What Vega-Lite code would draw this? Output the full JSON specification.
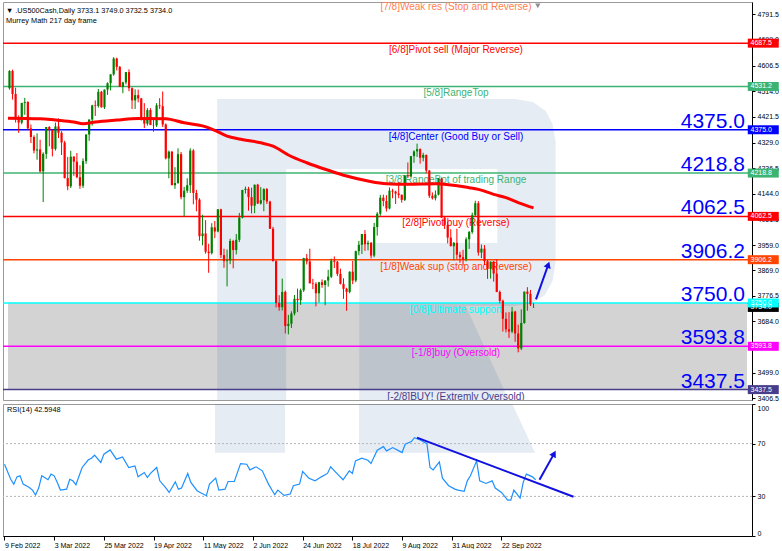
{
"$schema": "https://vega.github.io/schema/vega-lite/v6.json",
"background": "white",
"padding": {"left": 1, "top": 1, "right": 0, "bottom": 0},
"bounds": "flush",
"spacing": 4,
"config": {"view": {"stroke": "#9a9a9a", "strokeWidth": 1}, "font": "Liberation Sans"},
"datasets": {
"candles": [
{"i":0,"o":4525,"h":4590,"l":4520,"c":4587},{"i":1,"o":4587,"h":4592,"l":4484,"c":4504},{"i":2,"o":4504,"h":4527,"l":4401,"c":4418},{"i":3,"o":4418,"h":4427,"l":4364,"c":4401},{"i":4,"o":4401,"h":4472,"l":4395,"c":4472},{"i":5,"o":4472,"h":4490,"l":4429,"c":4475},{"i":6,"o":4475,"h":4478,"l":4373,"c":4380},{"i":7,"o":4380,"h":4394,"l":4327,"c":4349},{"i":8,"o":4349,"h":4355,"l":4290,"c":4300},{"i":9,"o":4300,"h":4362,"l":4267,"c":4304},
{"i":10,"o":4304,"h":4339,"l":4221,"c":4225},{"i":11,"o":4225,"h":4294,"l":4114,"c":4288},{"i":12,"o":4288,"h":4385,"l":4270,"c":4385},{"i":13,"o":4385,"h":4388,"l":4315,"c":4374},{"i":14,"o":4374,"h":4375,"l":4279,"c":4306},{"i":15,"o":4306,"h":4401,"l":4300,"c":4387},{"i":16,"o":4387,"h":4416,"l":4345,"c":4364},{"i":17,"o":4364,"h":4370,"l":4284,"c":4329},{"i":18,"o":4329,"h":4335,"l":4199,"c":4201},{"i":19,"o":4201,"h":4277,"l":4157,"c":4171},
{"i":20,"o":4171,"h":4299,"l":4165,"c":4278},{"i":21,"o":4278,"h":4280,"l":4209,"c":4260},{"i":22,"o":4260,"h":4291,"l":4200,"c":4204},{"i":23,"o":4204,"h":4247,"l":4162,"c":4173},{"i":24,"o":4173,"h":4272,"l":4165,"c":4262},{"i":25,"o":4262,"h":4358,"l":4252,"c":4358},{"i":26,"o":4358,"h":4412,"l":4335,"c":4412},{"i":27,"o":4412,"h":4465,"l":4390,"c":4463},{"i":28,"o":4463,"h":4481,"l":4425,"c":4461},{"i":29,"o":4461,"h":4522,"l":4455,"c":4512},
{"i":30,"o":4512,"h":4515,"l":4455,"c":4456},{"i":31,"o":4456,"h":4520,"l":4450,"c":4520},{"i":32,"o":4520,"h":4546,"l":4501,"c":4543},{"i":33,"o":4543,"h":4575,"l":4517,"c":4575},{"i":34,"o":4575,"h":4637,"l":4570,"c":4632},{"i":35,"o":4632,"h":4635,"l":4589,"c":4602},{"i":36,"o":4602,"h":4605,"l":4530,"c":4530},{"i":37,"o":4530,"h":4548,"l":4507,"c":4546},{"i":38,"o":4546,"h":4583,"l":4539,"c":4583},{"i":39,"o":4583,"h":4593,"l":4514,"c":4525},
{"i":40,"o":4525,"h":4528,"l":4450,"c":4481},{"i":41,"o":4481,"h":4521,"l":4450,"c":4500},{"i":42,"o":4500,"h":4520,"l":4474,"c":4488},{"i":43,"o":4488,"h":4490,"l":4408,"c":4413},{"i":44,"o":4413,"h":4471,"l":4381,"c":4397},{"i":45,"o":4397,"h":4453,"l":4390,"c":4446},{"i":46,"o":4446,"h":4453,"l":4392,"c":4392},{"i":47,"o":4392,"h":4411,"l":4368,"c":4391},{"i":48,"o":4391,"h":4471,"l":4385,"c":4463},{"i":49,"o":4463,"h":4489,"l":4450,"c":4460},
{"i":50,"o":4460,"h":4513,"l":4385,"c":4394},{"i":51,"o":4394,"h":4398,"l":4268,"c":4272},{"i":52,"o":4272,"h":4300,"l":4200,"c":4296},{"i":53,"o":4296,"h":4298,"l":4175,"c":4175},{"i":54,"o":4175,"h":4240,"l":4162,"c":4183},{"i":55,"o":4183,"h":4308,"l":4180,"c":4287},{"i":56,"o":4287,"h":4295,"l":4124,"c":4132},{"i":57,"o":4132,"h":4169,"l":4062,"c":4155},{"i":58,"o":4155,"h":4200,"l":4147,"c":4175},{"i":59,"o":4175,"h":4308,"l":4147,"c":4300},
{"i":60,"o":4300,"h":4305,"l":4106,"c":4147},{"i":61,"o":4147,"h":4158,"l":4081,"c":4123},{"i":62,"o":4123,"h":4128,"l":3975,"c":3991},{"i":63,"o":3991,"h":4068,"l":3958,"c":4001},{"i":64,"o":4001,"h":4049,"l":3928,"c":3935},{"i":65,"o":3935,"h":3964,"l":3859,"c":3930},{"i":66,"o":3930,"h":4038,"l":3925,"c":4023},{"i":67,"o":4023,"h":4046,"l":3984,"c":4008},{"i":68,"o":4008,"h":4089,"l":4005,"c":4088},{"i":69,"o":4088,"h":4090,"l":3912,"c":3923},
{"i":70,"o":3923,"h":3946,"l":3877,"c":3901},{"i":71,"o":3901,"h":3943,"l":3810,"c":3904},{"i":72,"o":3904,"h":3982,"l":3890,"c":3974},{"i":73,"o":3974,"h":3978,"l":3875,"c":3941},{"i":74,"o":3941,"h":3999,"l":3925,"c":3978},{"i":75,"o":3978,"h":4075,"l":3970,"c":4058},{"i":76,"o":4058,"h":4158,"l":4055,"c":4158},{"i":77,"o":4158,"h":4170,"l":4145,"c":4162},{"i":78,"o":4162,"h":4169,"l":4083,"c":4132},{"i":79,"o":4132,"h":4166,"l":4073,"c":4101},
{"i":80,"o":4101,"h":4177,"l":4074,"c":4177},{"i":81,"o":4177,"h":4180,"l":4107,"c":4109},{"i":82,"o":4109,"h":4168,"l":4105,"c":4121},{"i":83,"o":4121,"h":4164,"l":4081,"c":4161},{"i":84,"o":4161,"h":4165,"l":4107,"c":4116},{"i":85,"o":4116,"h":4119,"l":4017,"c":4018},{"i":86,"o":4018,"h":4025,"l":3900,"c":3901},{"i":87,"o":3901,"h":3905,"l":3734,"c":3750},{"i":88,"o":3750,"h":3778,"l":3722,"c":3735},{"i":89,"o":3735,"h":3838,"l":3723,"c":3790},
{"i":90,"o":3790,"h":3795,"l":3640,"c":3667},{"i":91,"o":3667,"h":3707,"l":3637,"c":3675},{"i":92,"o":3675,"h":3720,"l":3660,"c":3712},{"i":93,"o":3712,"h":3779,"l":3705,"c":3765},{"i":94,"o":3765,"h":3802,"l":3717,"c":3760},{"i":95,"o":3760,"h":3802,"l":3743,"c":3796},{"i":96,"o":3796,"h":3913,"l":3790,"c":3912},{"i":97,"o":3912,"h":3927,"l":3889,"c":3900},{"i":98,"o":3900,"h":3946,"l":3821,"c":3821},{"i":99,"o":3821,"h":3837,"l":3800,"c":3819},
{"i":100,"o":3819,"h":3825,"l":3738,"c":3785},{"i":101,"o":3785,"h":3826,"l":3752,"c":3825},{"i":102,"o":3825,"h":3835,"l":3805,"c":3815},{"i":103,"o":3815,"h":3832,"l":3742,"c":3831},{"i":104,"o":3831,"h":3870,"l":3809,"c":3845},{"i":105,"o":3845,"h":3910,"l":3840,"c":3903},{"i":106,"o":3903,"h":3918,"l":3876,"c":3899},{"i":107,"o":3899,"h":3902,"l":3847,"c":3855},{"i":108,"o":3855,"h":3874,"l":3817,"c":3819},{"i":109,"o":3819,"h":3839,"l":3765,"c":3801},
{"i":110,"o":3801,"h":3805,"l":3722,"c":3790},{"i":111,"o":3790,"h":3864,"l":3785,"c":3863},{"i":112,"o":3863,"h":3902,"l":3818,"c":3831},{"i":113,"o":3831,"h":3939,"l":3825,"c":3937},{"i":114,"o":3937,"h":3974,"l":3922,"c":3960},{"i":115,"o":3960,"h":3999,"l":3927,"c":3999},{"i":116,"o":3999,"h":4013,"l":3938,"c":3962},{"i":117,"o":3962,"h":3975,"l":3940,"c":3967},{"i":118,"o":3967,"h":3970,"l":3911,"c":3921},{"i":119,"o":3921,"h":4039,"l":3915,"c":4024},
{"i":120,"o":4024,"h":4078,"l":3993,"c":4072},{"i":121,"o":4072,"h":4140,"l":4065,"c":4130},{"i":122,"o":4130,"h":4141,"l":4099,"c":4118},{"i":123,"o":4118,"h":4139,"l":4080,"c":4091},{"i":124,"o":4091,"h":4167,"l":4088,"c":4155},{"i":125,"o":4155,"h":4162,"l":4128,"c":4152},{"i":126,"o":4152,"h":4155,"l":4107,"c":4145},{"i":127,"o":4145,"h":4186,"l":4128,"c":4140},{"i":128,"o":4140,"h":4142,"l":4112,"c":4122},{"i":129,"o":4122,"h":4211,"l":4118,"c":4210},
{"i":130,"o":4210,"h":4257,"l":4201,"c":4207},{"i":131,"o":4207,"h":4280,"l":4205,"c":4280},{"i":132,"o":4280,"h":4301,"l":4256,"c":4297},{"i":133,"o":4297,"h":4325,"l":4277,"c":4305},{"i":134,"o":4305,"h":4308,"l":4253,"c":4274},{"i":135,"o":4274,"h":4292,"l":4261,"c":4284},{"i":136,"o":4284,"h":4286,"l":4218,"c":4228},{"i":137,"o":4228,"h":4230,"l":4129,"c":4137},{"i":138,"o":4137,"h":4149,"l":4123,"c":4128},{"i":139,"o":4128,"h":4156,"l":4120,"c":4141},
{"i":140,"o":4141,"h":4200,"l":4138,"c":4199},{"i":141,"o":4199,"h":4203,"l":4057,"c":4058},{"i":142,"o":4058,"h":4063,"l":4017,"c":4031},{"i":143,"o":4031,"h":4044,"l":3965,"c":3986},{"i":144,"o":3986,"h":4016,"l":3954,"c":3955},{"i":145,"o":3955,"h":3970,"l":3904,"c":3967},{"i":146,"o":3967,"h":4018,"l":3907,"c":3924},{"i":147,"o":3924,"h":3935,"l":3895,"c":3915},{"i":148,"o":3915,"h":3942,"l":3886,"c":3908},{"i":149,"o":3908,"h":3987,"l":3900,"c":3980},
{"i":150,"o":3980,"h":4010,"l":3945,"c":4006},{"i":151,"o":4006,"h":4076,"l":4000,"c":4067},{"i":152,"o":4067,"h":4119,"l":4060,"c":4110},{"i":153,"o":4110,"h":4118,"l":3921,"c":3932},{"i":154,"o":3932,"h":3961,"l":3912,"c":3946},{"i":155,"o":3946,"h":3959,"l":3887,"c":3901},{"i":156,"o":3901,"h":3905,"l":3837,"c":3873},{"i":157,"o":3873,"h":3900,"l":3838,"c":3899},{"i":158,"o":3899,"h":3902,"l":3827,"c":3856},{"i":159,"o":3856,"h":3907,"l":3789,"c":3790},
{"i":160,"o":3790,"h":3795,"l":3749,"c":3758},{"i":161,"o":3758,"h":3762,"l":3647,"c":3693},{"i":162,"o":3693,"h":3716,"l":3644,"c":3655},{"i":163,"o":3655,"h":3717,"l":3624,"c":3647},{"i":164,"o":3647,"h":3736,"l":3641,"c":3719},{"i":165,"o":3719,"h":3722,"l":3610,"c":3640},{"i":166,"o":3640,"h":3672,"l":3572,"c":3586},{"i":167,"o":3586,"h":3727,"l":3580,"c":3678},{"i":168,"o":3678,"h":3791,"l":3675,"c":3791},{"i":169,"o":3791,"h":3807,"l":3722,"c":3783},
{"i":170,"o":3783,"h":3797,"l":3739,"c":3745},{"i":171,"o":3733.1,"h":3749,"l":3732.5,"c":3734}
],
"ma": [
{"i":-0.5,"v":4417},{"i":10,"v":4415},{"i":15,"v":4410},{"i":21,"v":4403},{"i":24,"v":4397},{"i":28,"v":4403},{"i":35,"v":4410},{"i":42,"v":4416},{"i":51,"v":4415},{"i":57,"v":4400},{"i":63,"v":4389},{"i":67,"v":4373},{"i":71,"v":4352},{"i":75.5,"v":4341},{"i":82,"v":4328},{"i":86,"v":4316},{"i":91,"v":4284},{"i":97,"v":4256},{"i":104,"v":4229},{"i":110,"v":4208},{"i":117,"v":4190},{"i":123,"v":4180},{"i":130,"v":4178},{"i":139,"v":4180},{"i":150,"v":4166},{"i":153,"v":4160},{"i":158,"v":4142},{"i":162,"v":4130},{"i":166,"v":4112},{"i":171,"v":4093}
],
"rsi": [
{"i":0,"v":54.4},{"i":2,"v":43},{"i":3,"v":39.3},{"i":4,"v":44.8},{"i":5,"v":45.6},{"i":6,"v":39.3},{"i":8,"v":36.8},{"i":9,"v":34.8},{"i":10,"v":31},{"i":11,"v":36.3},{"i":12,"v":45.6},{"i":14,"v":42.6},{"i":15,"v":46.9},{"i":16,"v":45.6},{"i":17,"v":40.6},{"i":18,"v":34.8},{"i":20,"v":35.5},{"i":21,"v":43},{"i":22,"v":41.8},{"i":23,"v":38.8},{"i":25,"v":51.9},{"i":27,"v":57.7},{"i":28,"v":58.9},{"i":29,"v":61.2},{"i":31,"v":55.7},{"i":32,"v":62},{"i":34,"v":65.2},{"i":36,"v":58.2},{"i":38,"v":59.9},{"i":40,"v":51.9},{"i":42,"v":53.1},{"i":43,"v":44.8},{"i":45,"v":48.1},{"i":46,"v":44.3},{"i":47,"v":47.4},{"i":49,"v":51.9},{"i":50,"v":41.8},{"i":52,"v":36.3},{"i":53,"v":33},{"i":55,"v":41},{"i":56,"v":35.5},{"i":57,"v":36.3},{"i":59,"v":47.4},{"i":60,"v":40.6},{"i":62,"v":34.3},{"i":63,"v":33},{"i":65,"v":30.5},{"i":66,"v":39.3},{"i":68,"v":43.8},{"i":69,"v":34.8},{"i":71,"v":35.5},{"i":72,"v":41.3},{"i":74,"v":41.3},{"i":76,"v":54.9},{"i":78,"v":54.4},{"i":79,"v":50.1},{"i":81,"v":52.4},{"i":83,"v":49.4},{"i":85,"v":39.3},{"i":87,"v":31.3},{"i":88,"v":34.8},{"i":90,"v":30.8},{"i":92,"v":31.8},{"i":93,"v":38.1},{"i":95,"v":39.3},{"i":96,"v":48.9},{"i":98,"v":43.8},{"i":100,"v":41.8},{"i":102,"v":44.8},{"i":104,"v":47.4},{"i":105,"v":52.4},{"i":107,"v":47.4},{"i":109,"v":42.6},{"i":111,"v":49.4},{"i":112,"v":47.4},{"i":113,"v":56.9},{"i":115,"v":58.9},{"i":117,"v":57.4},{"i":118,"v":54.9},{"i":120,"v":65},{"i":122,"v":67.7},{"i":123,"v":64.5},{"i":125,"v":67},{"i":127,"v":64.5},{"i":128,"v":63.2},{"i":129,"v":69.5},{"i":131,"v":71.5},{"i":132,"v":74.5},{"i":134,"v":72.5},{"i":136,"v":70},{"i":137,"v":51.9},{"i":138,"v":50.1},{"i":140,"v":56.2},{"i":141,"v":43.8},{"i":143,"v":38.1},{"i":145,"v":35.5},{"i":146,"v":34.8},{"i":148,"v":33.8},{"i":149,"v":41.8},{"i":150,"v":45.6},{"i":152,"v":56.9},{"i":153,"v":41.8},{"i":155,"v":39.8},{"i":157,"v":41.8},{"i":158,"v":36.3},{"i":160,"v":33},{"i":162,"v":27.2},{"i":163,"v":27.2},{"i":164,"v":34.8},{"i":166,"v":28.7},{"i":167,"v":40.6},{"i":168,"v":46.9},{"i":170,"v":44.8},{"i":171,"v":42.6}
],
"levels": [
{"lv":"p78","p":4843.75,"label":"[7/8]Weak res (Stop and Reverse)","num":"4843.8"},
{"lv":"p68","p":4687.5,"label":"[6/8]Pivot sell (Major Reverse)","num":"4687.5"},
{"lv":"p58","p":4531.25,"label":"[5/8]RangeTop","num":"4531.2"},
{"lv":"p48","p":4375,"label":"[4/8]Center (Good Buy or Sell)","num":"4375.0"},
{"lv":"p38","p":4218.75,"label":"[3/8]RangeBot of trading Range","num":"4218.8"},
{"lv":"p28","p":4062.5,"label":"[2/8]Pivot buy (Reverse)","num":"4062.5"},
{"lv":"p18","p":3906.25,"label":"[1/8]Weak sup (stop and Reverse)","num":"3906.2"},
{"lv":"p08","p":3750,"label":"[0/8]Ultimate support","num":"3750.0"},
{"lv":"m18","p":3593.75,"label":"[-1/8]buy (Oversold)","num":"3593.8"},
{"lv":"m28","p":3437.5,"label":"[-2/8]BUY! (Extremly Oversold)","num":"3437.5"}
],
"tags": [
{"lv":"cur","p":3734,"num":"3734.0"},
{"lv":"p68","p":4687.5,"num":"4687.5"},
{"lv":"p58","p":4531.25,"num":"4531.2"},
{"lv":"p48","p":4375,"num":"4375.0"},
{"lv":"p38","p":4218.75,"num":"4218.8"},
{"lv":"p28","p":4062.5,"num":"4062.5"},
{"lv":"p18","p":3906.25,"num":"3906.2"},
{"lv":"p08","p":3750,"num":"3750.0"},
{"lv":"m18","p":3593.75,"num":"3593.8"},
{"lv":"m28","p":3437.5,"num":"3437.5"}
],
"wm": [
{"k":0,"x":67.77,"y":4486},{"k":1,"x":165.0,"y":4486},{"k":2,"x":170.8,"y":4475.2},{"k":3,"x":175.0,"y":4442.7},{"k":4,"x":177.2,"y":4395.8},{"k":5,"x":178.2,"y":4334.5},{"k":6,"x":178.2,"y":3894.3},{"k":7,"x":177.2,"y":3829.4},{"k":8,"x":174.7,"y":3778.9},{"k":9,"x":170.5,"y":3750},{"k":10,"x":165.0,"y":3739.2},{"k":11,"x":148.9,"y":3739.2},{"k":12,"x":162.9,"y":3400},{"k":13,"x":114.13,"y":3400},{"k":14,"x":114.13,"y":3966.5},{"k":15,"x":159.21,"y":3966.5},{"k":16,"x":159.21,"y":4233.5},{"k":17,"x":90.31,"y":4233.5},{"k":18,"x":90.31,"y":3400},{"k":19,"x":67.77,"y":3400}
],
"wmr": [
{"part":"s","k":0,"x":67.77,"y":100},{"part":"s","k":1,"x":90.31,"y":100},{"part":"s","k":2,"x":90.31,"y":63},{"part":"s","k":3,"x":67.77,"y":63},
{"part":"l","k":0,"x":114.13,"y":100},{"part":"l","k":1,"x":163.5,"y":100},{"part":"l","k":2,"x":170.8,"y":63},{"part":"l","k":3,"x":114.13,"y":63}
],
"rsilv": [{"v":70},{"v":30}]
},
"vconcat": [
{
"width": 749,
"height": 398,
"title": {"text": "▼  .US500Cash,Daily  3733.1 3749.0 3732.5 3734.0", "subtitle": "Murrey Math 217 day frame", "anchor": "start", "frame": "group", "orient": "top", "offset": -22, "dx": 3, "font": "Liberation Sans", "fontSize": 7.3, "fontWeight": "normal", "color": "#000000", "subtitleFont": "Liberation Sans", "subtitleFontSize": 7.4, "subtitleColor": "#000000", "subtitlePadding": 2.5},
"encoding": {
"y": {"type": "quantitative", "scale": {"domain": [3400, 4836], "nice": false, "zero": false},
"axis": {"orient": "right", "values": [4791.5, 4699.0, 4606.5, 4514.0, 4421.5, 4329.0, 4236.5, 4144.0, 4051.5, 3959.0, 3869.0, 3776.5, 3684.0, 3499.0, 3406.5], "format": ".1f", "labelFont": "Liberation Sans", "labelFontSize": 7, "labelColor": "#000000", "tickSize": 3, "tickColor": "#000000", "domainColor": "#000000", "labelPadding": 2, "grid": false, "title": null, "labelOverlap": false, "labelBound": false, "zindex": 0}}
},
"layer": [
{
"data": {"values": [{"top": 3750, "bottom": 3437.5}]},
"mark": {"type": "rect", "color": "#d3d3d3"},
"encoding": {
"x": {"datum": -0.48, "type": "quantitative", "scale": {"domain": [-0.48, 240.66], "nice": false, "zero": false}, "axis": null},
"x2": {"datum": 240.66},
"y": {"field": "top", "type": "quantitative"},
"y2": {"field": "bottom"}
}
},
{
"data": {"name": "wm"},
"mark": {"type": "line", "filled": true, "color": "#1f4e9a", "opacity": 0.11, "strokeWidth": 0, "interpolate": "linear"},
"encoding": {
"x": {"field": "x", "type": "quantitative", "scale": {"domain": [-0.48, 240.66], "nice": false, "zero": false}, "axis": null},
"y": {"field": "y", "type": "quantitative"},
"order": {"field": "k", "type": "quantitative"}
}
},
{
"data": {"name": "levels"},
"transform": [{"filter": "datum.p < 4800"}],
"mark": {"type": "rule", "strokeWidth": 1.5},
"encoding": {
"y": {"field": "p", "type": "quantitative"},
"color": {"field": "lv", "type": "nominal", "legend": null, "scale": {"domain": ["p78","p68","p58","p48","p38","p28","p18","p08","m18","m28","cur"], "range": ["#ff7f50","#ff0000","#3cb371","#0000ff","#3cb371","#ff0000","#ff4500","#00ffff","#ff00ff","#483d8b","#000000"]}}
}
},
{
"data": {"name": "levels"},
"mark": {"type": "text", "align": "center", "baseline": "middle", "dy": 7, "font": "Liberation Sans", "fontSize": 10, "clip": true},
"encoding": {
"x": {"datum": 145.7, "type": "quantitative", "scale": {"domain": [-0.48, 240.66], "nice": false, "zero": false}, "axis": null},
"y": {"field": "p", "type": "quantitative"},
"text": {"field": "label"},
"color": {"field": "lv", "type": "nominal", "legend": null, "scale": {"domain": ["p78","p68","p58","p48","p38","p28","p18","p08","m18","m28","cur"], "range": ["#ff7f50","#ff0000","#3cb371","#0000ff","#3cb371","#ff0000","#ff4500","#00ffff","#ff00ff","#483d8b","#000000"]}}
}
},
{
"data": {"name": "levels"},
"transform": [{"filter": "datum.p <= 4375"}],
"mark": {"type": "text", "align": "right", "baseline": "alphabetic", "dy": -2, "font": "Liberation Sans", "fontSize": 21, "color": "#0000ff"},
"encoding": {
"x": {"datum": 240.0, "type": "quantitative", "scale": {"domain": [-0.48, 240.66], "nice": false, "zero": false}, "axis": null},
"y": {"field": "p", "type": "quantitative"},
"text": {"field": "num"}
}
},
{
"data": {"name": "candles"},
"mark": {"type": "rule", "strokeWidth": 1},
"encoding": {
"x": {"field": "i", "type": "quantitative", "scale": {"domain": [-0.48, 240.66], "nice": false, "zero": false}, "axis": null},
"y": {"field": "l", "type": "quantitative"},
"y2": {"field": "h"},
"color": {"condition": {"test": "datum.c >= datum.o", "value": "#008000"}, "value": "#ff0000"}
}
},
{
"data": {"name": "candles"},
"mark": {"type": "bar", "size": 2.2},
"encoding": {
"x": {"field": "i", "type": "quantitative", "scale": {"domain": [-0.48, 240.66], "nice": false, "zero": false}, "axis": null},
"y": {"field": "o", "type": "quantitative"},
"y2": {"field": "c"},
"color": {"condition": {"test": "datum.c >= datum.o", "value": "#008000"}, "value": "#ff0000"}
}
},
{
"data": {"name": "ma"},
"mark": {"type": "line", "color": "#ff0000", "strokeWidth": 3, "interpolate": "monotone"},
"encoding": {
"x": {"field": "i", "type": "quantitative", "scale": {"domain": [-0.48, 240.66], "nice": false, "zero": false}, "axis": null},
"y": {"field": "v", "type": "quantitative"}
}
},
{
"data": {"values": [{"x1": 171.8, "y1": 3763, "x2": 175.8, "y2": 3888}]},
"mark": {"type": "rule", "color": "#1010e0", "strokeWidth": 2},
"encoding": {
"x": {"field": "x1", "type": "quantitative", "scale": {"domain": [-0.48, 240.66], "nice": false, "zero": false}, "axis": null},
"y": {"field": "y1", "type": "quantitative"},
"x2": {"field": "x2"},
"y2": {"field": "y2"}
}
},
{
"data": {"values": [{"x": 175.8, "y": 3888}]},
"mark": {"type": "point", "shape": "triangle-up", "filled": true, "color": "#1010e0", "size": 55, "angle": 20, "opacity": 1},
"encoding": {
"x": {"field": "x", "type": "quantitative", "scale": {"domain": [-0.48, 240.66], "nice": false, "zero": false}, "axis": null},
"y": {"field": "y", "type": "quantitative"}
}
},
{
"data": {"values": [{"x": 172.4, "y": 4822}]},
"mark": {"type": "point", "shape": "triangle-down", "filled": true, "color": "#909090", "size": 28, "opacity": 1},
"encoding": {
"x": {"field": "x", "type": "quantitative", "scale": {"domain": [-0.48, 240.66], "nice": false, "zero": false}, "axis": null},
"y": {"field": "y", "type": "quantitative"}
}
},
{
"data": {"name": "tags"},
"mark": {"type": "point", "shape": "M-1,-0.29H1V0.29H-1Z", "filled": true, "size": 961, "opacity": 1, "strokeWidth": 0},
"encoding": {
"x": {"datum": 245.97, "type": "quantitative", "scale": {"domain": [-0.48, 240.66], "nice": false, "zero": false}, "axis": null},
"y": {"field": "p", "type": "quantitative"},
"color": {"field": "lv", "type": "nominal", "legend": null, "scale": {"domain": ["p78","p68","p58","p48","p38","p28","p18","p08","m18","m28","cur"], "range": ["#ff7f50","#ff0000","#3cb371","#0000ff","#3cb371","#ff0000","#ff4500","#00ffff","#ff00ff","#483d8b","#000000"]}}
}
},
{
"data": {"name": "tags"},
"mark": {"type": "text", "align": "left", "baseline": "middle", "font": "Liberation Sans", "fontSize": 7, "color": "#ffffff"},
"encoding": {
"x": {"datum": 241.8, "type": "quantitative", "scale": {"domain": [-0.48, 240.66], "nice": false, "zero": false}, "axis": null},
"y": {"field": "p", "type": "quantitative"},
"text": {"field": "num"}
}
}
]
},
{
"width": 749,
"height": 132,
"title": {"text": "RSI(14) 42.5948", "anchor": "start", "frame": "group", "orient": "top", "offset": -10, "dx": 4, "font": "Liberation Sans", "fontSize": 7.3, "fontWeight": "normal", "color": "#000000"},
"encoding": {
"x": {"type": "quantitative", "scale": {"domain": [-0.48, 240.66], "nice": false, "zero": false},
"axis": {"orient": "bottom", "values": [0, 16, 32, 48, 64, 80, 96, 112, 128, 144, 160], "labelExpr": "['9 Feb 2022','3 Mar 2022','25 Mar 2022','19 Apr 2022','11 May 2022','2 Jun 2022','24 Jun 2022','18 Jul 2022','9 Aug 2022','31 Aug 2022','22 Sep 2022'][round(datum.value/16)]", "labelAlign": "left", "labelBaseline": "top", "labelAngle": 0, "labelPadding": 1, "tickSize": 4, "tickColor": "#000000", "domainColor": "#000000", "labelFont": "Liberation Sans", "labelFontSize": 7, "labelColor": "#000000", "labelFlush": false, "labelOverlap": false, "labelBound": false, "grid": false, "title": null}},
"y": {"type": "quantitative", "scale": {"domain": [0, 100], "nice": false, "zero": false},
"axis": {"orient": "right", "values": [0, 30, 70, 100], "labelFlush": true, "labelFont": "Liberation Sans", "labelFontSize": 7, "labelColor": "#000000", "tickSize": 3, "tickColor": "#000000", "domainColor": "#000000", "labelPadding": 2, "grid": false, "title": null, "labelOverlap": false}}
},
"layer": [
{
"data": {"name": "wmr"},
"mark": {"type": "line", "filled": true, "color": "#1f4e9a", "opacity": 0.11, "strokeWidth": 0, "interpolate": "linear"},
"encoding": {
"x": {"field": "x", "type": "quantitative"},
"y": {"field": "y", "type": "quantitative"},
"order": {"field": "k", "type": "quantitative"},
"detail": {"field": "part", "type": "nominal"}
}
},
{
"data": {"name": "rsilv"},
"mark": {"type": "rule", "color": "#b4b4b4", "strokeWidth": 1, "strokeDash": [2, 2]},
"encoding": {
"y": {"field": "v", "type": "quantitative"}
}
},
{
"data": {"name": "rsi"},
"mark": {"type": "line", "color": "#1e90ff", "strokeWidth": 1.2},
"encoding": {
"x": {"field": "i", "type": "quantitative"},
"y": {"field": "v", "type": "quantitative"}
}
},
{
"data": {"values": [{"x1": 132.8, "y1": 74.5, "x2": 183.2, "y2": 29.7}, {"x1": 172.25, "y1": 42.6, "x2": 176.95, "y2": 62.4}]},
"mark": {"type": "rule", "color": "#1010e0", "strokeWidth": 2},
"encoding": {
"x": {"field": "x1", "type": "quantitative"},
"y": {"field": "y1", "type": "quantitative"},
"x2": {"field": "x2"},
"y2": {"field": "y2"}
}
},
{
"data": {"values": [{"x": 176.95, "y": 62.4}]},
"mark": {"type": "point", "shape": "triangle-up", "filled": true, "color": "#1010e0", "size": 55, "angle": 29, "opacity": 1},
"encoding": {
"x": {"field": "x", "type": "quantitative"},
"y": {"field": "y", "type": "quantitative"}
}
}
]
}
]
}
